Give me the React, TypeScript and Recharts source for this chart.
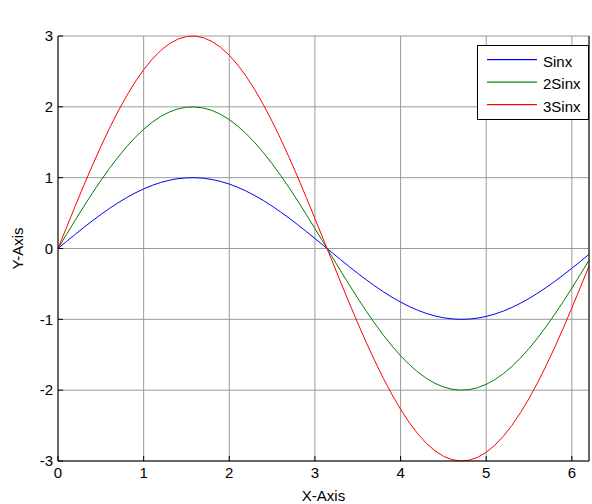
import { LineChart, Line, XAxis, YAxis, CartesianGrid, Legend } from "recharts";

// x = 0 : 0.1 : 6.2
const xs = [
  0, 0.1, 0.2, 0.3, 0.4, 0.5, 0.6, 0.7, 0.8, 0.9, 1.0, 1.1, 1.2, 1.3, 1.4, 1.5, 1.6, 1.7, 1.8, 1.9,
  2.0, 2.1, 2.2, 2.3, 2.4, 2.5, 2.6, 2.7, 2.8, 2.9, 3.0, 3.1, 3.2, 3.3, 3.4, 3.5, 3.6, 3.7, 3.8, 3.9,
  4.0, 4.1, 4.2, 4.3, 4.4, 4.5, 4.6, 4.7, 4.8, 4.9, 5.0, 5.1, 5.2, 5.3, 5.4, 5.5, 5.6, 5.7, 5.8, 5.9,
  6.0, 6.1, 6.2,
];

const sinx = [
  0, 0.0998, 0.1987, 0.2955, 0.3894, 0.4794, 0.5646, 0.6442, 0.7174, 0.7833, 0.8415, 0.8912, 0.932,
  0.9636, 0.9854, 0.9975, 0.9996, 0.9917, 0.9738, 0.9463, 0.9093, 0.8632, 0.8085, 0.7457, 0.6755,
  0.5985, 0.5155, 0.4274, 0.335, 0.2392, 0.1411, 0.0416, -0.0584, -0.1577, -0.2555, -0.3508, -0.4425,
  -0.5298, -0.6119, -0.6878, -0.7568, -0.8183, -0.8716, -0.9162, -0.9516, -0.9775, -0.9937, -0.9999,
  -0.9962, -0.9825, -0.9589, -0.9258, -0.8835, -0.8323, -0.7728, -0.7055, -0.6313, -0.5507, -0.4646,
  -0.3739, -0.2794, -0.1822, -0.0831,
];

const sin2x = [
  0, 0.2, 0.397, 0.591, 0.779, 0.959, 1.129, 1.288, 1.435, 1.567, 1.683, 1.782, 1.864, 1.927, 1.971,
  1.995, 1.999, 1.983, 1.948, 1.893, 1.819, 1.726, 1.617, 1.491, 1.351, 1.197, 1.031, 0.855, 0.67,
  0.478, 0.282, 0.083, -0.117, -0.315, -0.511, -0.702, -0.885, -1.06, -1.224, -1.376, -1.514, -1.637,
  -1.743, -1.832, -1.903, -1.955, -1.987, -2.0, -1.992, -1.965, -1.918, -1.852, -1.767, -1.665, -1.546,
  -1.411, -1.263, -1.101, -0.929, -0.748, -0.559, -0.364, -0.166,
];

const sin3x = [
  0, 0.299, 0.596, 0.887, 1.168, 1.438, 1.694, 1.933, 2.152, 2.35, 2.524, 2.674, 2.796, 2.891, 2.956,
  2.992, 2.999, 2.975, 2.921, 2.839, 2.728, 2.59, 2.425, 2.237, 2.027, 1.796, 1.547, 1.282, 1.005,
  0.718, 0.423, 0.125, -0.175, -0.473, -0.767, -1.052, -1.328, -1.589, -1.836, -2.063, -2.27, -2.455,
  -2.615, -2.749, -2.855, -2.933, -2.981, -3.0, -2.989, -2.948, -2.877, -2.777, -2.651, -2.497, -2.318,
  -2.117, -1.894, -1.652, -1.394, -1.122, -0.838, -0.547, -0.249,
];

const xTicks = [0, 1, 2, 3, 4, 5, 6];
const yTicks = [-3, -2, -1, 0, 1, 2, 3];

const series = [
  { key: "s1", name: "Sinx", color: "#0000ff" },
  { key: "s2", name: "2Sinx", color: "#008000" },
  { key: "s3", name: "3Sinx", color: "#ff0000" },
];

const data = xs.map((x, i) => ({ x, s1: sinx[i], s2: sin2x[i], s3: sin3x[i] }));

const FONT = '"Liberation Sans", Arial, Helvetica, sans-serif';
const tickStyle = { fontSize: 15, fill: "#000", fontFamily: FONT };
const labelStyle = { fontSize: 15, fill: "#000", fontFamily: FONT };

// legend drawn as a small svg box, like matlab's
function LegendBox() {
  return (
    <svg width={112} height={75} style={{ display: "block" }}>
      <rect x={0.5} y={0.5} width={111} height={74} fill="#fff" stroke="#000" strokeWidth={1} />
      {series.map((s, i) => (
        <g key={s.key}>
          <rect x={10} y={14 + i * 22.5} width={50} height={1.2} fill={s.color} />
          <text x={66} y={21.5 + i * 22.5} fontSize={15} fontFamily={FONT} fill="#000">
            {s.name}
          </text>
        </g>
      ))}
    </svg>
  );
}

export default function App() {
  return (
    <div style={{ position: "absolute", left: 0, top: 0, width: 592, height: 504, background: "#fff", fontFamily: FONT }}>
      <LineChart width={592} height={504} data={data} margin={{ top: 36, right: 0, bottom: 0, left: 0 }}>
        <CartesianGrid stroke="#9a9a9a" strokeWidth={1} />
        <XAxis
          dataKey="x"
          type="number"
          domain={[0, 6.2]}
          ticks={xTicks}
          interval={0}
          height={43}
          stroke="#000"
          tickSize={-5}
          tickMargin={11}
          tick={tickStyle}
          label={{ value: "X-Axis", position: "insideBottom", offset: 3, style: labelStyle }}
        />
        <XAxis
          xAxisId="top"
          orientation="top"
          type="number"
          domain={[0, 6.2]}
          ticks={xTicks}
          interval={0}
          height={0}
          stroke="#000"
          tickSize={-5}
          tick={false}
          label={{ value: "Sinx,2Sinx,3Sinx versus x", position: "top", offset: 10, style: labelStyle }}
        />
        <YAxis
          type="number"
          domain={[-3, 3]}
          ticks={yTicks}
          interval={0}
          width={58}
          stroke="#000"
          tickSize={-5}
          tickMargin={10}
          tick={tickStyle}
          label={{ value: "Y-Axis", angle: -90, position: "insideLeft", offset: 18, style: { ...labelStyle, textAnchor: "middle" } }}
        />
        <YAxis
          yAxisId="right"
          orientation="right"
          type="number"
          domain={[-3, 3]}
          ticks={yTicks}
          interval={0}
          width={3}
          stroke="#000"
          tickSize={-5}
          tick={false}
        />
        {series.map((s) => (
          <Line
            key={s.key}
            type="linear"
            dataKey={s.key}
            name={s.name}
            stroke={s.color}
            strokeWidth={1}
            dot={false}
            isAnimationActive={false}
          />
        ))}
        <Legend
          layout="horizontal"
          align="center"
          verticalAlign="middle"
          wrapperStyle={{ left: 477, top: 45, width: 112, height: 75 }}
          content={() => <LegendBox />}
        />
      </LineChart>
    </div>
  );
}
